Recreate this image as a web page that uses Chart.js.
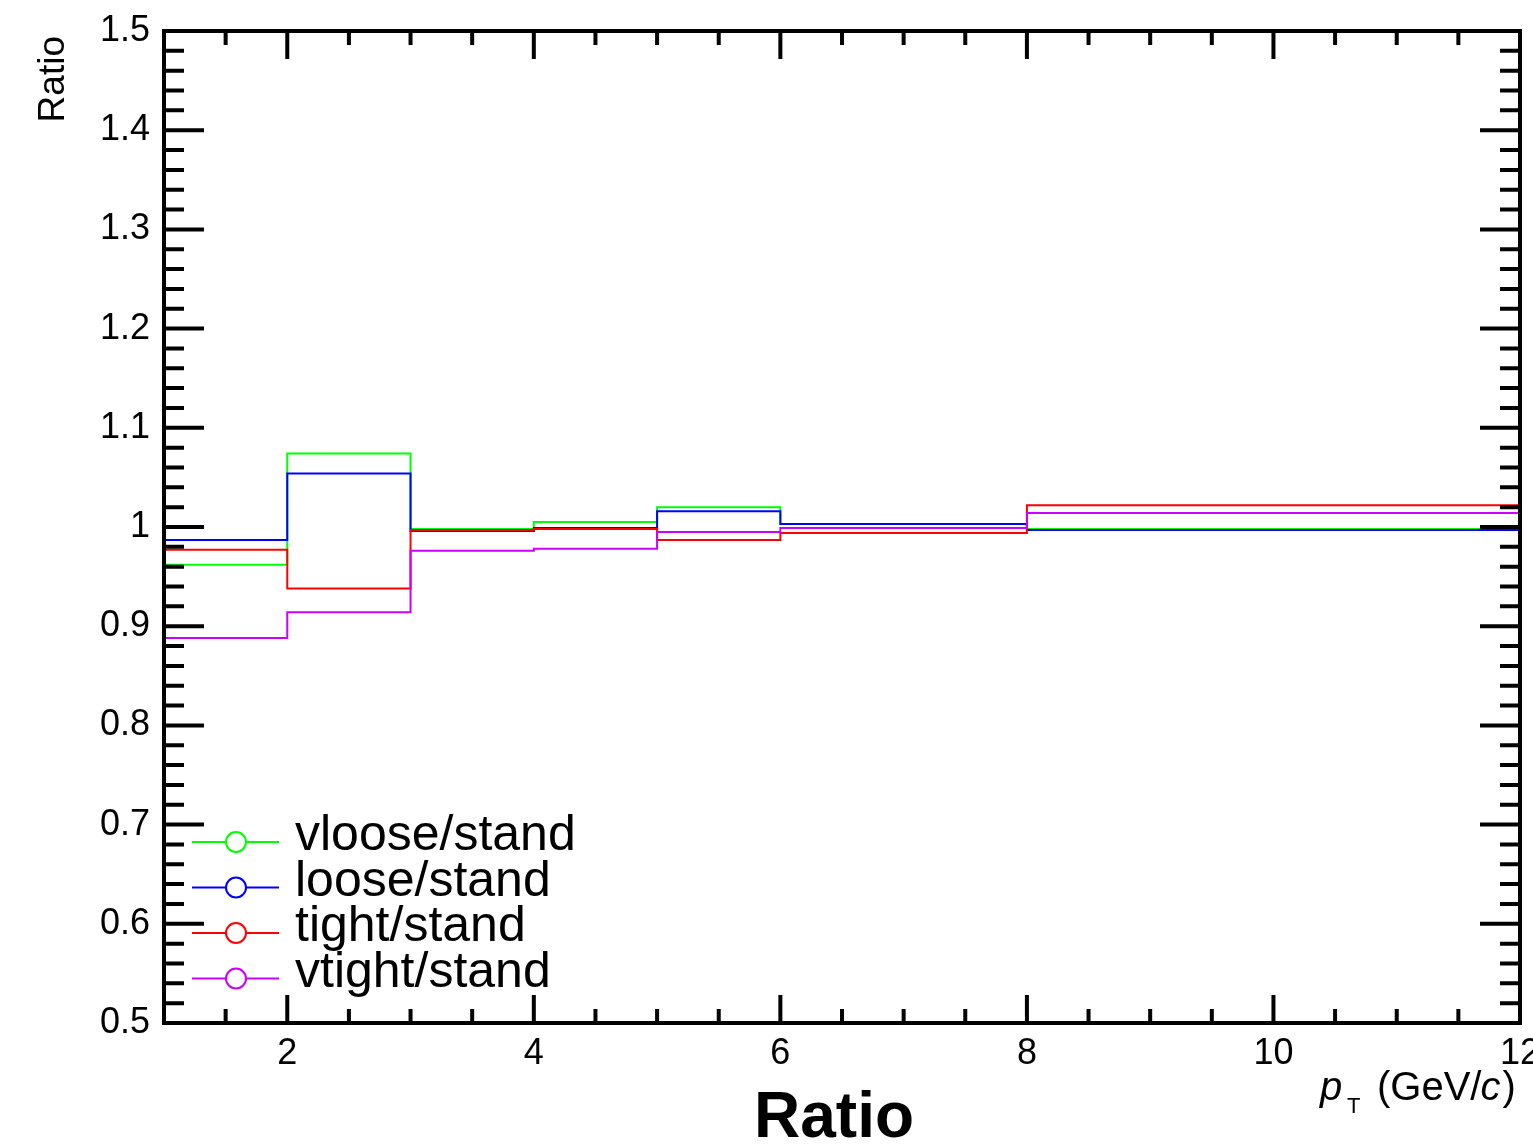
<!DOCTYPE html>
<html>
<head>
<meta charset="utf-8">
<script src="https://cdn.jsdelivr.net/npm/chart.js@4.4.0/dist/chart.umd.min.js"></script>
<style>
  body { margin: 0; background: #fff; }
  canvas { display: block; }
</style>
</head>
<body>
<canvas id="myChart" width="1533" height="1144"></canvas>
<script>
// bin edges in pT and one ratio value per bin
var binEdges = [1, 2, 3, 4, 5, 6, 8, 12];
var vloose = [0.962, 1.074, 0.998, 1.005, 1.020, 1.003, 0.998];
var loose  = [0.987, 1.054, 0.996, 0.999, 1.016, 1.003, 0.997];
var tight  = [0.977, 0.938, 0.997, 0.998, 0.987, 0.994, 1.022];
var vtight = [0.888, 0.914, 0.976, 0.978, 0.995, 0.999, 1.014];

var xTicks = [2, 4, 6, 8, 10, 12];
var yTicks = [0.5, 0.6, 0.7, 0.8, 0.9, 1.0, 1.1, 1.2, 1.3, 1.4, 1.5];

var names  = ["vloose/stand", "loose/stand", "tight/stand", "vtight/stand"];
var colors = ["#00ff00", "#0000ff", "#ff0000", "#cc00ff"];
var series = [vloose, loose, tight, vtight];

var FONT = "'Liberation Sans', Arial, Helvetica, sans-serif";

// turn a histogram into step points (left edges + closing right edge)
function histPoints(vals) {
    var pts = [];
    for (var i = 0; i < vals.length; i++) {
        pts.push({x: binEdges[i], y: vals[i]});
    }
    pts.push({x: binEdges[binEdges.length - 1], y: vals[vals.length - 1]});
    return pts;
}

var datasets = series.map(function (vals, i) {
    return {
        label: names[i],
        data: histPoints(vals),
        borderColor: colors[i],
        borderWidth: 2,
        pointRadius: 0,
        fill: false,
        stepped: 'before',   // horizontal first, then the jump at the next edge
        order: series.length - i   // later series drawn on top
    };
});

// frame, inward ticks on all sides, legend and titles, ROOT style
const rootFrame = {
    id: 'rootFrame',
    afterDraw(chart) {
        const ctx = chart.ctx;
        const a = chart.chartArea;
        const xs = chart.scales.x, ys = chart.scales.y;
        ctx.save();
        ctx.strokeStyle = '#000';
        ctx.lineWidth = 4;
        ctx.lineCap = 'butt';

        // y ticks
        for (let k = 0; k <= 50; k++) {
            const v = 0.5 + k * 0.02;
            const py = ys.getPixelForValue(v);
            const len = (k % 5 === 0) ? 40 : 20;
            ctx.beginPath();
            ctx.moveTo(a.left, py); ctx.lineTo(a.left + len, py);
            ctx.moveTo(a.right, py); ctx.lineTo(a.right - len, py);
            ctx.stroke();
        }
        // x ticks
        for (let k = 0; k <= 22; k++) {
            const v = 1 + k * 0.5;
            const px = xs.getPixelForValue(v);
            const len = (Math.abs(v % 2) < 1e-9) ? 28 : 14;
            ctx.beginPath();
            ctx.moveTo(px, a.bottom); ctx.lineTo(px, a.bottom - len);
            ctx.moveTo(px, a.top); ctx.lineTo(px, a.top + len);
            ctx.stroke();
        }
        ctx.strokeRect(a.left, a.top, a.right - a.left, a.bottom - a.top);

        // legend
        ctx.lineWidth = 2;
        ctx.font = '50px ' + FONT;
        ctx.textBaseline = 'alphabetic';
        ctx.textAlign = 'left';
        for (let i = 0; i < names.length; i++) {
            const cy = 842 + i * 45.5;
            ctx.strokeStyle = colors[i];
            ctx.beginPath();
            ctx.moveTo(192, cy); ctx.lineTo(279, cy);
            ctx.stroke();
            ctx.fillStyle = '#fff';
            ctx.beginPath();
            ctx.arc(236, cy, 10, 0, Math.PI * 2);
            ctx.fill();
            ctx.stroke();
            ctx.fillStyle = '#000';
            ctx.fillText(names[i], 295, cy + 8);
        }

        // y axis title
        ctx.fillStyle = '#000';
        ctx.save();
        ctx.translate(64, 36);
        ctx.rotate(-Math.PI / 2);
        ctx.font = '37px ' + FONT;
        ctx.textAlign = 'right';
        ctx.fillText('Ratio', 0, 0);
        ctx.restore();

        // x axis title: p_T (GeV/c)
        ctx.textAlign = 'left';
        ctx.font = 'italic 40px ' + FONT;
        ctx.fillText('p', 1320, 1100);
        ctx.font = '22px ' + FONT;
        ctx.fillText('T', 1347, 1113);
        let tx = 1377;
        ctx.font = '40px ' + FONT;
        ctx.fillText('(GeV/', tx, 1100);
        tx += ctx.measureText('(GeV/').width;
        ctx.font = 'italic 40px ' + FONT;
        ctx.fillText('c', tx - 1, 1100);
        tx += ctx.measureText('c').width + 1;
        ctx.font = '40px ' + FONT;
        ctx.fillText(')', tx, 1100);

        // big title at the bottom
        ctx.font = 'bold 64px ' + FONT;
        ctx.textAlign = 'center';
        ctx.fillText('Ratio', 834, 1137);
        ctx.restore();
    }
};

new Chart("myChart", {
    type: "line",
    data: { datasets: datasets },
    options: {
        responsive: false,
        animation: false,
        layout: { autoPadding: false, padding: { left: 0, top: 31, right: 13, bottom: 0 } },
        plugins: { legend: { display: false }, tooltip: { enabled: false } },
        scales: {
            x: {
                type: 'linear',
                min: 1, max: 12,
                grid: { display: false, drawTicks: false },
                border: { display: false },
                afterBuildTicks: function (scale) {
                    scale.ticks = xTicks.map(function (v) { return {value: v}; });
                },
                afterFit: function (scale) {
                    scale.height = 1144 - 1023;
                    scale.paddingLeft = 0; scale.paddingRight = 0;
                },
                ticks: { color: '#000', font: { size: 36, family: FONT }, padding: 9, maxRotation: 0, autoSkip: false }
            },
            y: {
                type: 'linear',
                min: 0.5, max: 1.5,
                grid: { display: false, drawTicks: false },
                border: { display: false },
                afterBuildTicks: function (scale) {
                    scale.ticks = yTicks.map(function (v) { return {value: v}; });
                },
                afterFit: function (scale) {
                    scale.width = 164;
                    scale.paddingTop = 0; scale.paddingBottom = 0;
                },
                ticks: {
                    color: '#000', font: { size: 36, family: FONT }, padding: 14, autoSkip: false,
                    callback: function (v) { return String(Math.round(v * 10) / 10); }
                }
            }
        }
    },
    plugins: [rootFrame]
});
</script>
</body>
</html>
